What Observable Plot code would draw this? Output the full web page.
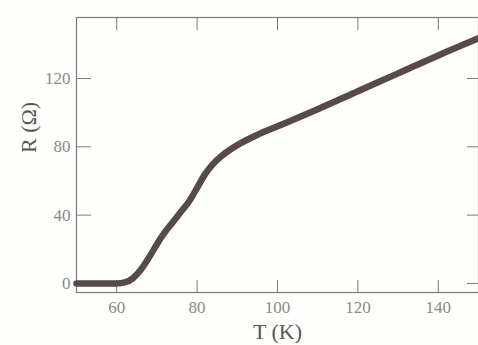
<!DOCTYPE html>
<html>
<head>
<meta charset="utf-8">
<script src="https://cdn.jsdelivr.net/npm/d3@7"></script>
<script src="https://cdn.jsdelivr.net/npm/@observablehq/plot@0.6"></script>
<style>
  html, body { margin: 0; padding: 0; background: #fefefb; overflow: hidden; }
</style>
</head>
<body>
<div id="chart"></div>
<script>
const temperature = [50, 55, 60, 62, 64, 66, 68, 70, 72, 74, 76, 78, 80, 82, 84, 86, 88, 90, 95, 100, 110, 120, 130, 140, 150];
const resistance  = [0, 0, 0, 0.6, 3, 8, 15, 23, 30, 36, 42, 48, 56, 64, 70, 74.5, 78, 81, 87, 92, 102, 112.5, 123, 133.5, 143.5];
const xTicks = [60, 80, 100, 120, 140];
const yTicks = [0, 40, 80, 120];
const xLabel = "T (K)";
const yLabel = "R (\u03A9)";

const data = temperature.map((t, i) => ({T: t, R: resistance[i]}));
const tickColor = "#7a7a7a";
const labelColor = "#8a8a8a";

const chart = Plot.plot({
  width: 478,
  height: 345,
  marginLeft: 76,
  marginRight: 0,
  marginTop: 17,
  marginBottom: 53,
  style: {fontFamily: "Liberation Serif", background: "#fefefb", overflow: "visible"},
  x: {domain: [50, 150]},
  y: {domain: [-5.3, 155.7]},
  marks: [
    Plot.frame({stroke: tickColor, strokeWidth: 1.2}),
    Plot.axisX(xTicks, {anchor: "bottom", tickSize: -12, tickPadding: 20, fontSize: 17, letterSpacing: 1, color: labelColor, stroke: tickColor, label: null}),
    Plot.axisX(xTicks, {anchor: "top", tickSize: -12, tickFormat: () => "", stroke: tickColor, label: null}),
    Plot.axisY(yTicks, {anchor: "left", tickSize: -15, tickPadding: 21, fontSize: 17, letterSpacing: 1.5, color: labelColor, stroke: tickColor, label: null}),
    Plot.axisY(yTicks, {anchor: "right", tickSize: -12, tickFormat: () => "", stroke: tickColor, label: null}),
    Plot.line(data, {x: "T", y: "R", stroke: "#584a48", strokeWidth: 6.5, curve: "monotone-x", strokeLinecap: "round"}),
    Plot.text([yLabel], {frameAnchor: "left", dx: -48, dy: -2, rotate: -90, fontSize: 22, letterSpacing: 2, fill: "#555"}),
    Plot.text([xLabel], {frameAnchor: "bottom", dy: 46, fontSize: 22, letterSpacing: 2, fill: "#555"})
  ]
});
document.getElementById("chart").appendChild(chart);
</script>
</body>
</html>
